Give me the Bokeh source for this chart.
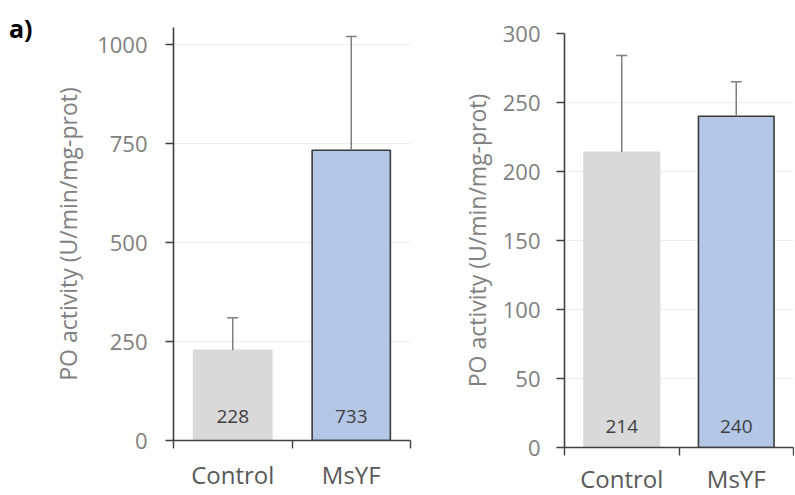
from bokeh.plotting import figure
from bokeh.layouts import row, column
from bokeh.models import FixedTicker, LinearAxis, Range1d, Whisker, TeeHead, ColumnDataSource
from bokeh.embed import file_html
from bokeh.resources import INLINE
from bokeh.core.properties import value

categories = ["Control", "MsYF"]
left_means = [228, 733]
left_err = [82, 287]
right_means = [214, 240]
right_err = [70, 25]
left_ticks = [0, 250, 500, 750, 1000]
right_ticks = [0, 50, 100, 150, 200, 250, 300]
y_title = "PO activity (U/min/mg-prot)"
panel_tag = "a)"

FONT = "Open Sans"
AXIS_COL = "#404040"
bar_fill = ["#d9d9d9", "#b4c7e7"]
bar_line = ["#d9d9d9", "#3a3a3a"]


def make_panel(means, errs, ticks, ymax, fw, fh, bl, br, bt, bb, tick_std, title_std, val_off, cat_std):
    xs = [i + 0.5 for i in range(len(categories))]
    src = ColumnDataSource(dict(
        x=xs, mean=means, upper=[m + e for m, e in zip(means, errs)],
        label=[str(m) for m in means], fill=bar_fill, line=bar_line,
        zero=[0] * len(means)))
    p = figure(x_range=Range1d(0, len(categories)), y_range=Range1d(0, ymax),
               frame_width=fw, frame_height=fh,
               min_border_left=bl, min_border_right=br,
               min_border_top=bt, min_border_bottom=bb,
               x_axis_location=None,
               output_backend="svg", toolbar_location=None)
    p.outline_line_color = None
    p.background_fill_color = "white"
    p.border_fill_color = "white"
    p.xgrid.visible = False
    p.ygrid.ticker = FixedTicker(ticks=ticks, minor_ticks=[])
    p.ygrid.grid_line_color = "#ededed"
    p.ygrid.grid_line_width = 1.2

    ya = p.yaxis[0]
    ya.ticker = FixedTicker(ticks=ticks, minor_ticks=[])
    ya.axis_line_color = AXIS_COL
    ya.axis_line_width = 1.6
    ya.major_tick_line_color = AXIS_COL
    ya.major_tick_line_width = 1.4
    ya.major_tick_out = 8
    ya.major_tick_in = 0
    ya.minor_tick_line_color = None
    ya.major_label_standoff = tick_std
    ya.major_label_text_font = FONT
    ya.major_label_text_font_size = "22px"
    ya.major_label_text_color = "#808080"
    ya.axis_label = y_title
    ya.axis_label_text_font = FONT
    ya.axis_label_text_font_size = "23px"
    ya.axis_label_text_font_style = "normal"
    ya.axis_label_text_color = "#808080"
    ya.axis_label_standoff = title_std

    bounds = list(range(len(categories) + 1))
    xa = LinearAxis(ticker=FixedTicker(ticks=bounds, minor_ticks=[]),
                    major_label_overrides={b: "" for b in bounds},
                    major_label_text_font_size="10px", major_label_standoff=0,
                    major_tick_out=8, major_tick_in=0,
                    axis_line_color=AXIS_COL, axis_line_width=1.6,
                    major_tick_line_color=AXIS_COL, major_tick_line_width=1.4,
                    minor_tick_line_color=None)
    xl = LinearAxis(ticker=FixedTicker(ticks=xs, minor_ticks=[]),
                    major_label_overrides={x: c for x, c in zip(xs, categories)},
                    axis_line_color=None, major_tick_line_color=None,
                    minor_tick_line_color=None, major_label_standoff=cat_std,
                    major_label_text_font=FONT, major_label_text_font_size="24px",
                    major_label_text_color="#595959")
    p.add_layout(xa, "below")
    p.add_layout(xl, "below")

    p.vbar(x="x", top="mean", bottom=0, width=0.66, source=src,
           fill_color="fill", line_color="line", line_width=1.6)
    w = Whisker(base="x", lower="mean", upper="upper", source=src, dimension="height",
                line_color="#808080", line_width=1.5, lower_head=None,
                upper_head=TeeHead(size=11, line_color="#808080", line_width=1.5),
                level="overlay")
    p.add_layout(w)
    p.text(x="x", y="zero", text="label", source=src, y_offset=-val_off,
           text_align="center", text_baseline="middle",
           text_font=value(FONT), text_font_size="19px", text_color="#404040")
    return p


p1 = make_panel(left_means, left_err, left_ticks, 1043, 237, 413, 173, 8, 27, 47, 18, 10, 24, 3)
# panel tag "a)" drawn as the single label of an extra, line-less left axis
tag_axis = LinearAxis(ticker=FixedTicker(ticks=[1043], minor_ticks=[]),
                      major_label_overrides={1043: panel_tag},
                      axis_line_color=None, major_tick_line_color=None,
                      minor_tick_line_color=None, major_label_standoff=11,
                      major_label_text_font=FONT, major_label_text_font_size="25px",
                      major_label_text_font_style="bold", major_label_text_color="black")
p1.add_layout(tag_axis, "left")
p2 = make_panel(right_means, right_err, right_ticks, 300, 229, 414, 146, 1, 33, 40, 16, 7, 21, 0)

layout = row(column(p1), column(p2))
open("out.html", "w").write(file_html(layout, INLINE))
